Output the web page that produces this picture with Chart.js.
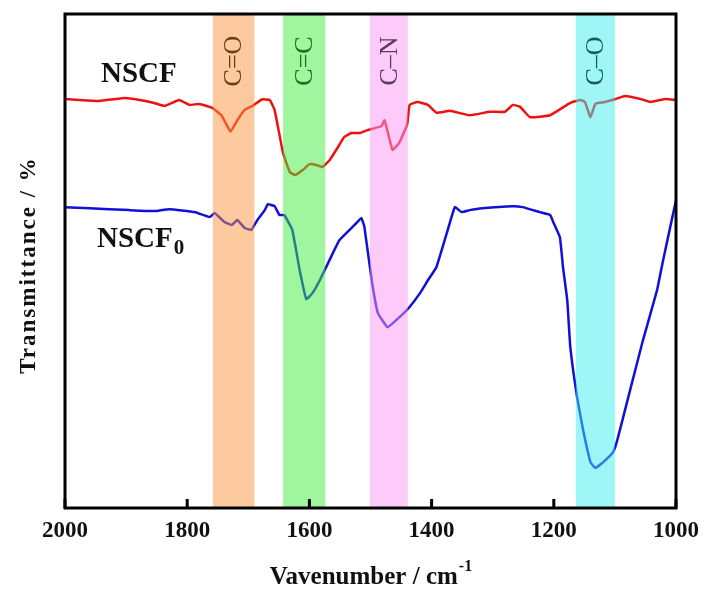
<!DOCTYPE html>
<html>
<head>
<meta charset="utf-8">
<script src="https://cdn.jsdelivr.net/npm/chart.js@4.4.0/dist/chart.umd.min.js"></script>
<style>
  html, body { margin: 0; padding: 0; background: #fff; }
  #wrap { width: 705px; height: 590px; }
</style>
</head>
<body>
<div id="wrap"><canvas id="ftir"></canvas></div>
<script>
// NSCF spectrum (wavenumber in cm-1, transmittance in arbitrary units)
const nscfWave = [2000, 1977, 1944, 1903, 1878, 1854, 1837, 1813, 1796, 1780, 1759, 1744, 1729, 1718,
                  1706, 1693, 1678, 1665, 1657, 1643, 1632, 1623, 1611, 1600, 1587, 1579, 1567, 1554,
                  1543, 1531, 1518, 1505, 1493, 1482, 1477, 1464, 1453, 1440, 1436, 1423, 1406, 1392,
                  1370, 1338, 1305, 1280, 1267, 1255, 1239, 1206, 1173, 1157, 1149, 1140, 1132, 1116,
                  1099, 1083, 1058, 1042, 1017, 1000];
const nscfTrans = [82.8, 82.6, 82.4, 83.0, 82.6, 82.0, 81.4, 82.6, 81.6, 81.8, 81.0, 79.5, 76.2, 78.5,
                   80.6, 81.4, 82.7, 82.6, 80.6, 71.8, 68.0, 67.4, 68.4, 69.6, 69.4, 69.0, 70.4, 72.9,
                   75.1, 75.9, 75.9, 76.5, 76.9, 77.3, 78.5, 72.5, 73.9, 77.6, 81.6, 82.2, 81.6, 80.0,
                   80.4, 79.5, 80.2, 80.2, 81.6, 81.2, 79.1, 79.5, 82.0, 82.6, 82.2, 79.1, 81.8, 82.2,
                   82.8, 83.4, 82.8, 82.2, 82.8, 82.6];

// NSCF0 spectrum
const nscf0Wave = [2000, 1960, 1895, 1854, 1829, 1788, 1763, 1755, 1739, 1727, 1718, 1706, 1695, 1685,
                   1673, 1668, 1657, 1649, 1641, 1628, 1616, 1605, 1595, 1583, 1567, 1551, 1526, 1515,
                   1510, 1498, 1488, 1472, 1452, 1436, 1419, 1406, 1392, 1375, 1362, 1351, 1338, 1317,
                   1267, 1251, 1223, 1206, 1201, 1190, 1185, 1178, 1173, 1162, 1152, 1140, 1132, 1119,
                   1103, 1096, 1075, 1054, 1031, 1021, 1000];
const nscf0Trans = [60.9, 60.7, 60.3, 60.1, 60.5, 59.9, 58.9, 59.7, 57.9, 57.3, 58.3, 56.7, 56.3, 58.3,
                    60.3, 61.5, 61.1, 59.3, 59.3, 56.3, 48.2, 42.3, 43.5, 46.1, 50.2, 54.2, 57.3, 58.7,
                    56.9, 46.1, 39.5, 36.6, 38.7, 40.7, 43.5, 46.1, 48.8, 55.7, 60.9, 59.9, 60.3, 60.7,
                    61.1, 60.9, 59.9, 59.3, 57.9, 54.8, 48.8, 42.1, 32.6, 22.5, 15.8, 9.3, 8.1, 9.3,
                    11.3, 13.8, 23.9, 34.0, 44.1, 50.2, 62.3];

// functional group bands
const bandNames = ['C=O', 'C=C', 'C\u2013N', 'C\u2013O'];
const bandFrom = [1758, 1643, 1501, 1164];
const bandTo = [1690, 1574, 1439, 1100];
const bandFill = ['rgba(250,150,62,0.5)', 'rgba(64,238,64,0.5)', 'rgba(251,150,246,0.5)', 'rgba(64,238,238,0.5)'];
const bandInk = ['#6e3d12', '#167516', '#5c3a5e', '#165c5c'];

const xTicks = [2000, 1800, 1600, 1400, 1200, 1000];

const serif = "'Liberation Serif', 'Times New Roman', serif";

const toPoints = (xs, ys) => xs.map((x, i) => ({ x: x, y: ys[i] }));

const decorations = {
  id: 'decorations',
  afterDatasetsDraw(chart) {
    const { ctx, chartArea: a, scales: { x } } = chart;
    ctx.save();
    bandNames.forEach((name, i) => {
      const x1 = x.getPixelForValue(bandFrom[i]);
      const x2 = x.getPixelForValue(bandTo[i]);
      ctx.fillStyle = bandFill[i];
      ctx.fillRect(x1, a.top, x2 - x1, a.bottom - a.top);
      ctx.save();
      ctx.translate((x1 + x2) / 2, 61);
      ctx.rotate(-Math.PI / 2);
      ctx.fillStyle = bandInk[i];
      ctx.font = '26px ' + serif;
      ctx.textAlign = 'center';
      ctx.textBaseline = 'middle';
      ctx.fillText(name, 0, 1);
      ctx.restore();
    });
    ctx.restore();
  },
  afterDraw(chart) {
    const { ctx, chartArea: a, scales: { x } } = chart;
    ctx.save();
    // frame
    ctx.strokeStyle = '#000';
    ctx.lineWidth = 3;
    ctx.strokeRect(a.left, a.top, a.right - a.left, a.bottom - a.top);
    // inward tick marks on the bottom axis
    xTicks.forEach(v => {
      const px = x.getPixelForValue(v);
      ctx.beginPath();
      ctx.moveTo(px, a.bottom);
      ctx.lineTo(px, a.bottom - 9);
      ctx.stroke();
    });

    // sample names
    ctx.fillStyle = '#111';
    ctx.textBaseline = 'alphabetic';
    ctx.textAlign = 'left';
    ctx.font = 'bold 29px ' + serif;
    ctx.fillText('NSCF', 101, 82);
    ctx.fillText('NSCF', 97, 247);
    const w = ctx.measureText('NSCF').width;
    ctx.font = 'bold 21px ' + serif;
    ctx.fillText('0', 97 + w + 1, 254);

    // x axis title with superscript
    ctx.font = 'bold 25px ' + serif;
    const main = 'Vavenumber / cm';
    const mw = ctx.measureText(main).width;
    ctx.font = 'bold 16px ' + serif;
    const sw = ctx.measureText('-1').width;
    const sx = (a.left + a.right) / 2 - (mw + sw) / 2;
    ctx.font = 'bold 25px ' + serif;
    ctx.fillText(main, sx, 584);
    ctx.font = 'bold 16px ' + serif;
    ctx.fillText('-1', sx + mw + 1, 571);

    // y axis title
    ctx.translate(29, 265);
    ctx.rotate(-Math.PI / 2);
    ctx.font = 'bold 23px ' + serif;
    ctx.letterSpacing = '2px';
    ctx.textAlign = 'center';
    ctx.textBaseline = 'middle';
    ctx.fillText('Transmittance / %', 0, 0);
    ctx.restore();
  }
};

new Chart(document.getElementById('ftir'), {
  type: 'line',
  data: {
    datasets: [{
      label: 'NSCF',
      data: toPoints(nscfWave, nscfTrans),
      borderColor: '#ee1111',
      borderWidth: 2.5,
      pointRadius: 0,
      tension: 0.1,
      fill: false
    }, {
      label: 'NSCF0',
      data: toPoints(nscf0Wave, nscf0Trans),
      borderColor: '#1010d8',
      borderWidth: 2.5,
      pointRadius: 0,
      tension: 0.1,
      fill: false
    }]
  },
  options: {
    responsive: true,
    maintainAspectRatio: false,
    animation: false,
    layout: { padding: { left: 65, right: 29, top: 14, bottom: 0 } },
    plugins: {
      legend: { display: false },
      tooltip: { enabled: false }
    },
    scales: {
      x: {
        type: 'linear',
        reverse: true,
        min: 1000,
        max: 2000,
        afterBuildTicks: (scale) => { scale.ticks = xTicks.map(v => ({ value: v })); },
        afterFit: (scale) => {
          scale.height = 82;
          scale.paddingLeft = 0;
          scale.paddingRight = 0;
        },
        grid: { display: false, drawTicks: false },
        border: { display: false },
        ticks: {
          color: '#111',
          padding: 9,
          font: { family: serif, size: 23, weight: 'bold' },
          callback: (value) => String(value)
        }
      },
      y: {
        display: false,
        min: 0,
        max: 100
      }
    }
  },
  plugins: [decorations]
});
</script>
</body>
</html>
